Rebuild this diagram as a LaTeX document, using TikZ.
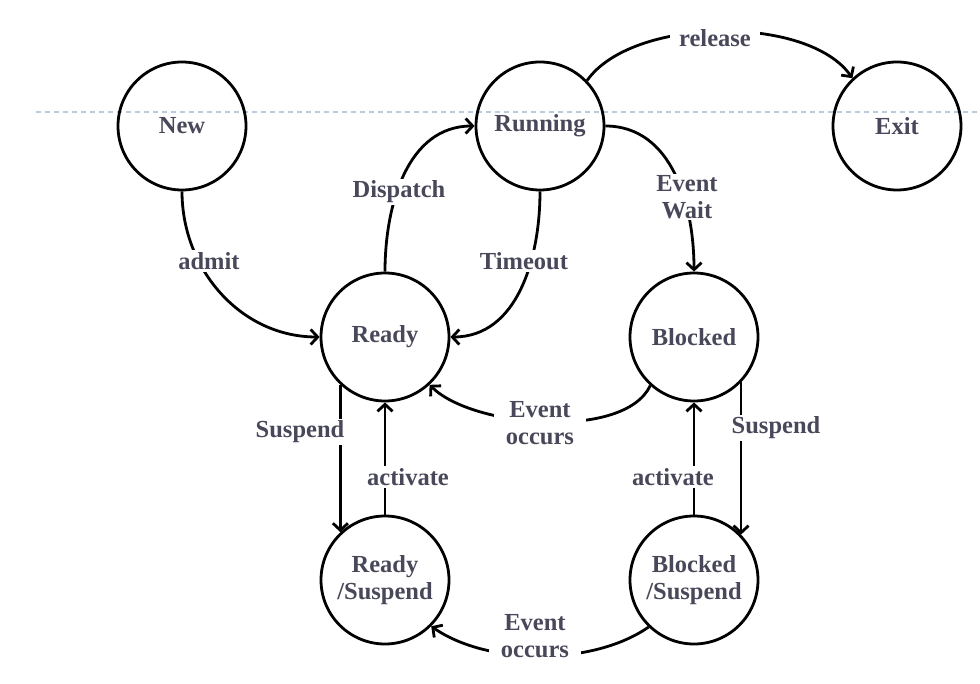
\documentclass[tikz,border=0pt]{standalone}
\usepackage{fontspec}
\setmainfont{Liberation Serif}
\usetikzlibrary{arrows.meta}
\definecolor{txt}{RGB}{72,72,90}
\definecolor{dashcol}{RGB}{185,203,220}
\begin{document}
\begin{tikzpicture}[x=1pt,y=1pt,
  state/.style={circle,draw=black,line width=2.8pt,minimum size=128pt,inner sep=0pt,
    text=txt,font=\fontsize{24.5}{26.5}\selectfont\bfseries,align=center},
  lbl/.style={fill=white,text=txt,font=\fontsize{24.5}{26.5}\selectfont\bfseries,
    align=center,inner sep=2pt},
  edge/.style={line width=2.8pt,-{Straight Barb[length=7pt,width=15pt,line width=2.8pt]}}]
\useasboundingbox (0,0) rectangle (980,-684);
\draw[draw=dashcol,line width=1.3pt,dash pattern=on 5pt off 4pt] (36,-112) -- (980,-112);
\node[state] (new) at (182,-126) {New};
\node[state] (run) at (540,-126) {Running};
\node[state] (exit) at (897,-126) {Exit};
\node[state] (ready) at (385,-337) {Ready};
\node[state] (blk) at (694,-337) {Blocked};
\node[state] (rs) at (385,-580) {Ready\\/Suspend};
\node[state] (bs) at (694,-580) {Blocked\\/Suspend};
% edges
\draw[edge] (new.south) to[out=-90,in=180] (ready.west);
\draw[edge] (ready.north) to[out=90,in=180] (run.west);
\draw[edge] (run.south) to[out=-90,in=0] (ready.east);
\draw[edge] (run.east) to[out=0,in=90] (blk.north);
\draw[edge] (run.44) to[out=55,in=125,looseness=0.75] (exit.133);
\draw[edge] (blk.-132) to[out=-115,in=-45,looseness=0.7] (ready.-47);
\draw[edge] (bs.-134) to[out=-145,in=-35,looseness=0.8] (rs.-45);
\draw[edge] (ready.-133.4) -- (rs.133.4);
\draw[edge] (rs.north) -- (ready.south);
\draw[edge] (blk.-44) -- (bs.44);
\draw[edge] (bs.north) -- (blk.south);
% labels
\node[lbl] (l1) at (209,-261) {admit};
\node[lbl] (l2) at (399,-192) {Dispatch};
\node[lbl] (l3) at (524,-261) {Timeout};
\node[lbl] (l4) at (687,-197) {Event\\Wait};
\node[lbl,inner xsep=9pt] (l5) at (715,-38) {release};
\node[lbl,inner xsep=12pt] (l6) at (540,-423) {Event\\occurs};
\node[lbl,inner xsep=12pt] (l7) at (535,-636) {Event\\occurs};
\node[lbl] (l8) at (300,-432) {Suspend};
\node[lbl] (l9) at (408,-477) {activate};
\node[lbl] (l10) at (776,-428) {Suspend};
\node[lbl] (l11) at (673,-477) {activate};
\end{tikzpicture}
\end{document}
